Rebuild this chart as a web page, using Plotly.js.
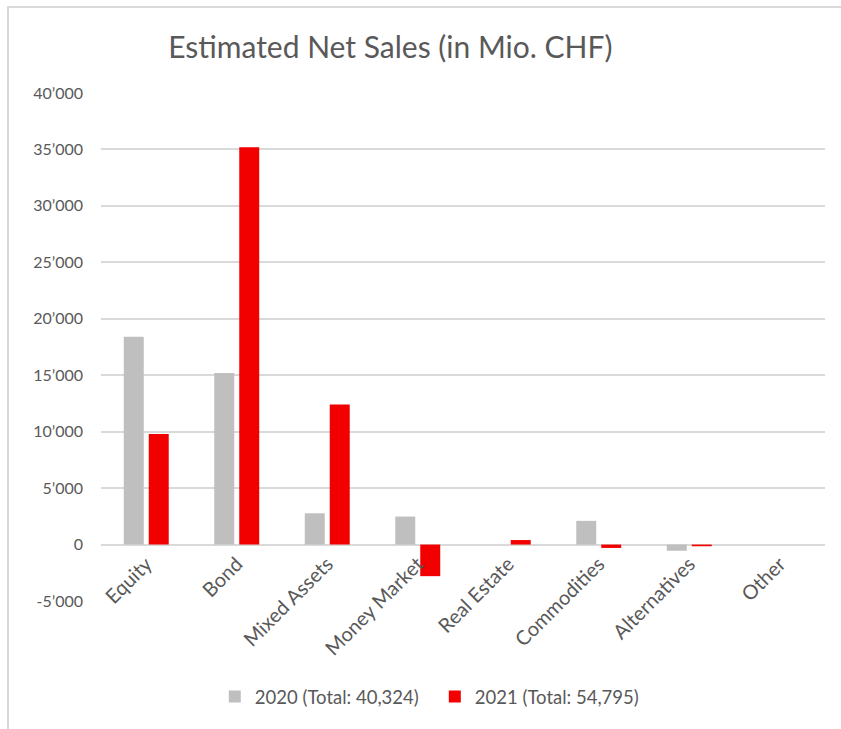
<!DOCTYPE html>
<html>
<head>
<meta charset="utf-8">
<script src="https://cdn.plot.ly/plotly-3.0.1.min.js"></script>
<style>
  html, body { margin: 0; padding: 0; background: #fff; }
  #frame { position: absolute; left: 7px; top: 6px; width: 834px; height: 723px;
           border-left: 2px solid #d9d9d9; border-top: 2px solid #d9d9d9; box-sizing: border-box; }
  #chart { position: absolute; left: 0; top: 0; width: 841px; height: 729px; }
</style>
</head>
<body>
<div id="frame"></div>
<div id="chart"></div>
<script>
const categories = ["Equity", "Bond", "Mixed Assets", "Money Market", "Real Estate", "Commodities", "Alternatives", "Other"];
const sales2020 = [18400, 15200, 2770, 2480, 0, 2100, -550, 0];
const sales2021 = [9800, 35200, 12400, -2800, 400, -300, -150, 0];
const seriesNames = ["2020 (Total: 40,324)", "2021 (Total: 54,795)"];
const yTickVals = [-5000, 0, 5000, 10000, 15000, 20000, 25000, 30000, 35000, 40000];
const yTickText = ["-5\u2019000", "0", "5\u2019000", "10\u2019000", "15\u2019000", "20\u2019000", "25\u2019000", "30\u2019000", "35\u2019000", "40\u2019000"];

const fontFam = "Lato, 'Open Sans', sans-serif";
const textCol = "#595959";

const traces = [
  { type: "bar", name: seriesNames[0], x: categories, y: sales2020,
    marker: { color: "#bfbfbf" }, hoverinfo: "skip" },
  { type: "bar", name: seriesNames[1], x: categories, y: sales2021,
    marker: { color: "#f20000" }, hoverinfo: "skip" }
];

const layout = {
  width: 841, height: 729,
  paper_bgcolor: "rgba(0,0,0,0)", plot_bgcolor: "rgba(0,0,0,0)",
  margin: { l: 101, r: 16, t: 93, b: 128 },
  font: { family: fontFam, color: textCol, size: 16 },
  title: { text: "Estimated Net Sales (in Mio. CHF)", xref: "container", yref: "container",
           x: 0.2, xanchor: "left", y: 1 - 47 / 729, yanchor: "middle",
           font: { family: fontFam, size: 30, color: textCol } },
  barmode: "group", bargap: 0.448, bargroupgap: 0.2,
  xaxis: { anchor: "free", position: 5000 / 45000, tickangle: -45, showline: false, showgrid: false,
           zeroline: false, ticks: "", ticklabelstandoff: 3, tickfont: { size: 20, color: textCol } },
  yaxis: { range: [-5000, 40000], tickvals: yTickVals, ticktext: yTickText,
           showgrid: true, gridcolor: "#d9d9d9", gridwidth: 2,
           zeroline: true, zerolinecolor: "#d9d9d9", zerolinewidth: 2,
           showline: false, ticks: "", ticklabelstandoff: 17, tickfont: { size: 16, color: textCol } },
  showlegend: true,
  legend: { orientation: "h", x: 0.517, xanchor: "center", xref: "container",
            y: 1 - 697 / 729, yref: "container", yanchor: "middle",
            entrywidth: 175, entrywidthmode: "pixels",
            font: { size: 18.5, color: textCol }, itemwidth: 30, tracegroupgap: 0 }
};

Plotly.newPlot("chart", traces, layout, { staticPlot: true, displayModeBar: false });
</script>
</body>
</html>
